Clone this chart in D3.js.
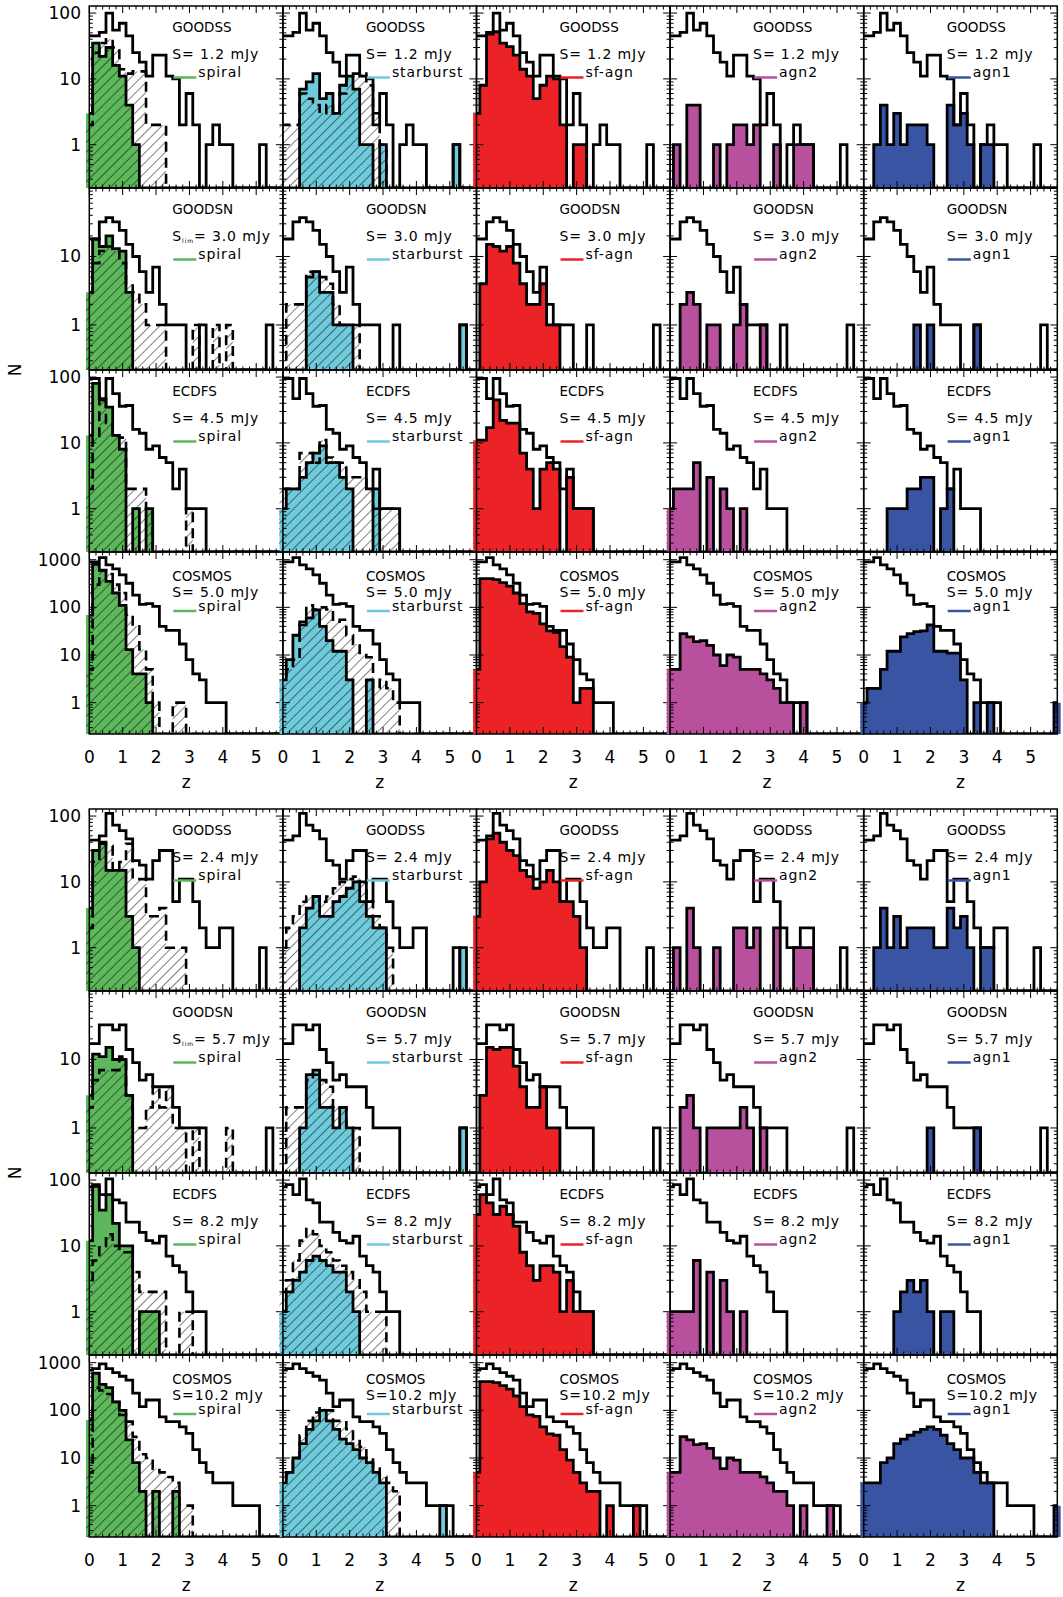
<!DOCTYPE html>
<html>
<head>
<meta charset="utf-8">
<script src="https://cdn.jsdelivr.net/npm/d3@7"></script>
<style>
  body { margin: 0; background: #fff; }
  text { font-family: "DejaVu Sans", sans-serif; fill: #000; }
</style>
</head>
<body>
<svg id="chart" width="1063" height="1597"></svg>
<script>
// Redshift histograms, 0.2-wide bins centred on z = 0, 0.2, ... 5.8
const binCentres = d3.range(30).map(k => +(k * 0.2).toFixed(1));

const fieldNames = ["GOODSS", "GOODSN", "ECDFS", "COSMOS", "GOODSS", "GOODSN", "ECDFS", "COSMOS"];
const fluxLimits = ["1.2", "3.0", "4.5", "5.0", "2.4", "5.7", "8.2", "10.2"];
const classNames = ["spiral", "starburst", "sf-agn", "agn2", "agn1"];
const classColors = ["#5db85b", "#6fcbdb", "#ec2326", "#b8509e", "#3a54a4"];
const xTickLabels = ["0", "1", "2", "3", "4", "5"];

// GOODSS, S = 1.2 mJy
const r1Total   = [45,45,51,100,55,70,45,25,18,11,23,23,11,10,2,6,2,0,1,2,1,1,0,0,0,0,1,0,0,0];
const r1Spiral  = [3,35,22,30,16,11,4,1,0,0,0,0,0,0,0,0,0,0,0,0,0,0,0,0,0,0,0,0,0,0];
const r1SpiralH = [2,25,35,40,30,14,12,13,13,2,2,2,0,0,0,0,0,0,0,0,0,0,0,0,0,0,0,0,0,0];
const r1Starb   = [0,0,0,7,9,12,5,6,3,8,11,7,1,1,0,1,0,0,0,0,0,0,0,0,0,0,1,0,0,0];
const r1StarbH  = [2,2,2,6,5,4,3,4,3,6,10,12,12,8,3,1,0,0,0,0,0,0,0,0,0,0,0,0,0,0];
const r1SfAgn   = [3,8,48,52,35,31,23,14,11,5,8,11,10,2,0,1,1,0,0,0,0,0,0,0,0,0,0,0,0,0];
const r1Agn2    = [0,1,0,4,4,0,0,1,0,1,2,2,1,2,0,0,1,0,0,1,1,1,0,0,0,0,0,0,0,0];
const r1Agn1    = [0,0,1,4,1,3,1,2,2,2,1,0,0,4,2,3,1,0,1,1,0,0,0,0,0,0,0,0,0,0];

// GOODSN, S = 3.0 mJy
const r2Total   = [18,18,32,37,32,24,15,10,6,3,7,2,1,1,1,0,0,1,0,0,0,0,0,0,0,0,0,1,0,0];
const r2Spiral  = [3,18,14,20,13,12,3,0,0,0,0,0,0,0,0,0,0,0,0,0,0,0,0,0,0,0,0,0,0,0];
const r2SpiralH = [3,8,12,14,12,8,4,3,2,1,1,1,0,0,0,0,1,0,0,1,0,1,0,0,0,0,0,0,0,0];
const r2Starb   = [0,0,0,0,5,6,3,3,1,1,1,0,0,0,0,0,0,0,0,0,0,0,0,0,0,0,0,1,0,0];
const r2StarbH  = [0,2,2,2,6,6,5,4,2,1,1,1,0,0,0,0,0,0,0,0,0,0,0,0,0,0,0,0,0,0];
const r2SfAgn   = [0,4,15,14,12,14,8,4,2,2,4,1,1,0,0,0,0,0,0,0,0,0,0,0,0,0,0,0,0,0];
const r2Agn2    = [0,0,2,3,2,0,1,1,0,0,1,2,0,0,1,0,0,0,0,0,0,0,0,0,0,0,0,0,0,0];
const r2Agn1    = [0,0,0,0,0,0,0,0,1,0,1,0,0,0,0,0,0,1,0,0,0,0,0,0,0,0,0,0,0,0];

// ECDFS, S = 4.5 mJy
const r3Total   = [95,95,47,95,56,36,37,16,14,8,9,6,5,2,4,1,1,1,0,0,0,0,0,0,0,0,0,0,0,0];
const r3Spiral  = [13,80,45,35,13,8,0,1,0,1,0,0,0,0,0,0,0,0,0,0,0,0,0,0,0,0,0,0,0,0];
const r3SpiralH = [2,12,50,20,13,12,2,2,2,1,0,0,0,0,0,1,0,0,0,0,0,0,0,0,0,0,0,0,0,0];
const r3Starb   = [1,2,2,3,5,7,9,5,5,3,2,0,0,0,2,0,0,0,0,0,0,0,0,0,0,0,0,0,0,0];
const r3StarbH  = [2,2,2,7,7,5,11,6,5,5,3,3,3,2,1,1,1,1,0,0,0,0,0,0,0,0,0,0,0,0];
const r3SfAgn   = [11,11,17,45,22,20,20,7,4,1,4,5,4,0,3,1,1,1,0,0,0,0,0,0,0,0,0,0,0,0];
const r3Agn2    = [1,2,2,2,5,0,3,0,2,1,0,1,0,0,0,0,0,0,0,0,0,0,0,0,0,0,0,0,0,0];
const r3Agn1    = [0,0,0,0,1,1,1,2,2,3,3,0,1,2,0,0,0,0,0,0,0,0,0,0,0,0,0,0,0,0];

// COSMOS, S = 5.0 mJy
const r4Total   = [900,900,1100,780,640,480,320,180,115,120,105,40,33,33,17,8,4,3,1,1,1,0,0,0,0,0,0,0,0,0];
const r4Spiral  = [69,800,600,350,200,110,13,4,4,1,0,0,0,0,0,0,0,0,0,0,0,0,0,0,0,0,0,0,0,0];
const r4SpiralH = [5,300,600,500,300,200,70,40,13,5,1,0,0,1,1,0,0,0,0,0,0,0,0,0,0,0,0,0,0,0];
const r4Starb   = [3,8,26,43,60,88,40,20,12,12,3,0,0,3,0,0,0,0,0,0,0,0,0,0,0,0,0,0,0,0];
const r4StarbH  = [3,5,8,50,110,90,100,90,50,55,26,17,10,9,2,3,2,1,0,0,0,0,0,0,0,0,0,0,0,0];
const r4SfAgn   = [5,400,400,380,330,280,200,120,80,75,45,32,30,15,9,1,2,2,0,0,0,0,0,0,0,0,0,0,0,0];
const r4Agn2    = [5,5,28,24,19,20,16,10,6,10,9,5,5,5,4,3,2,1,1,0,1,0,0,0,0,0,0,0,0,0];
const r4Agn1    = [1,2,2,5,12,12,24,28,31,32,43,12,12,11,11,3,0,1,0,1,0,0,0,0,0,0,0,0,0,1];

// GOODSS, S = 2.4 mJy
const r5Total   = [43,43,50,110,73,60,45,21,18,11,21,30,30,5,11,11,5,2,1,1,2,2,0,0,0,0,1,0,0,0];
const r5Spiral  = [4,30,40,15,15,15,3,1,0,0,0,0,0,0,0,0,0,0,0,0,0,0,0,0,0,0,0,0,0,0];
const r5SpiralH = [2,20,38,35,15,20,38,11,11,3,3,4,1,1,1,0,0,0,0,0,0,0,0,0,0,0,0,0,0,0];
const r5Starb   = [0,0,0,2,4,6,3,3,5,6,8,10,5,3,2,2,0,0,0,0,0,0,0,0,0,0,0,1,0,0];
const r5StarbH  = [1,2,3,5,6,6,5,6,8,10,11,12,10,5,3,2,1,0,0,0,0,0,0,0,0,0,0,0,0,0];
const r5SfAgn   = [3,10,45,55,40,30,25,15,12,8,10,15,10,5,5,3,1,0,0,0,0,0,0,0,0,0,0,0,0,0];
const r5Agn2    = [0,1,0,4,1,0,0,1,0,0,2,2,1,2,0,0,2,0,0,1,1,1,0,0,0,0,0,0,0,0];
const r5Agn1    = [0,0,1,4,1,3,1,2,2,2,2,1,1,4,2,3,1,0,1,1,0,0,0,0,0,0,0,0,0,0];

// GOODSN, S = 5.7 mJy
const r6Total   = [17,17,32,32,27,32,14,9,5,6,4,4,4,2,1,1,1,1,0,0,0,0,0,0,0,0,0,1,0,0];
const r6Spiral  = [3,12,11,15,10,10,3,0,0,0,0,0,0,0,0,0,0,0,0,0,0,0,0,0,0,0,0,0,0,0];
const r6SpiralH = [2,5,7,7,7,11,3,1,1,2,4,2,4,1,1,0,1,0,0,0,0,1,0,0,0,0,0,0,0,0];
const r6Starb   = [0,0,0,1,6,7,2,2,1,2,1,0,0,0,0,0,0,0,0,0,0,0,0,0,0,0,0,1,0,0];
const r6StarbH  = [0,2,2,2,5,6,5,4,2,2,1,1,0,0,0,0,0,0,0,0,0,0,0,0,0,0,0,0,0,0];
const r6SfAgn   = [0,3,15,14,15,15,8,4,2,2,4,1,1,0,0,0,0,0,0,0,0,0,0,0,0,0,0,0,0,0];
const r6Agn2    = [0,0,2,3,1,0,1,1,1,1,1,2,1,0,1,0,0,0,0,0,0,0,0,0,0,0,0,0,0,0];
const r6Agn1    = [0,0,0,0,0,0,0,0,0,0,1,0,0,0,0,0,0,1,0,0,0,0,0,0,0,0,0,0,0,0];

// ECDFS, S = 8.2 mJy
const r7Total   = [79,85,60,104,50,45,23,23,16,12,11,14,7,5,4,2,1,1,0,0,0,0,0,0,0,0,0,0,0,0];
const r7Spiral  = [12,80,35,60,22,10,10,0,1,1,1,0,0,0,0,0,0,0,0,0,0,0,0,0,0,0,0,0,0,0];
const r7SpiralH = [3,6,10,15,10,8,8,4,2,2,2,2,0,0,1,1,0,0,0,0,0,0,0,0,0,0,0,0,0,0];
const r7Starb   = [1,2,3,4,6,7,6,5,4,4,2,1,0,0,0,0,0,0,0,0,0,0,0,0,0,0,0,0,0,0];
const r7StarbH  = [2,3,6,12,18,15,10,8,6,5,4,3,2,1,1,1,0,0,0,0,0,0,0,0,0,0,0,0,0,0];
const r7SfAgn   = [30,60,45,30,40,30,20,8,5,3,5,5,4,1,3,1,1,1,0,0,0,0,0,0,0,0,0,0,0,0];
const r7Agn2    = [1,1,1,1,6,0,4,0,3,1,0,1,0,0,0,0,0,0,0,0,0,0,0,0,0,0,0,0,0,0];
const r7Agn1    = [0,0,0,0,0,1,2,3,2,3,1,0,1,1,0,0,0,0,0,0,0,0,0,0,0,0,0,0,0,0];

// COSMOS, S = 10.2 mJy
const r8Total   = [700,750,940,750,620,520,430,230,120,165,165,73,58,58,45,33,15,8,5,3,3,3,1,1,1,1,0,0,0,0];
const r8Spiral  = [63,600,350,300,150,100,24,8,2,0,2,0,0,2,0,0,0,0,0,0,0,0,0,0,0,0,0,0,0,0];
const r8SpiralH = [5,300,260,220,150,80,58,28,12,10,6,5,4,3,1,1,0,0,0,0,0,0,0,0,0,0,0,0,0,0];
const r8Starb   = [3,5,10,20,40,60,100,60,40,25,20,15,10,8,5,3,0,0,0,0,0,0,0,0,1,0,0,0,0,0];
const r8StarbH  = [3,5,10,30,60,90,110,100,60,60,40,25,17,10,6,4,3,2,0,0,0,0,0,0,0,0,0,0,0,0];
const r8SfAgn   = [5,400,400,380,330,280,200,120,80,75,45,32,30,15,9,5,3,2,2,0,1,0,0,0,1,0,0,0,0,0];
const r8Agn2    = [5,5,28,24,19,20,16,10,6,10,9,5,5,5,4,3,2,2,1,0,1,0,0,0,1,0,0,0,0,0];
const r8Agn1    = [3,3,3,8,10,20,25,30,35,40,45,40,30,20,15,10,10,5,3,3,0,0,0,0,0,0,0,0,0,1];

// table assembled from the arrays above
const rowTotals  = [r1Total, r2Total, r3Total, r4Total, r5Total, r6Total, r7Total, r8Total];
const rowClasses = [
  [r1Spiral, r1Starb, r1SfAgn, r1Agn2, r1Agn1],
  [r2Spiral, r2Starb, r2SfAgn, r2Agn2, r2Agn1],
  [r3Spiral, r3Starb, r3SfAgn, r3Agn2, r3Agn1],
  [r4Spiral, r4Starb, r4SfAgn, r4Agn2, r4Agn1],
  [r5Spiral, r5Starb, r5SfAgn, r5Agn2, r5Agn1],
  [r6Spiral, r6Starb, r6SfAgn, r6Agn2, r6Agn1],
  [r7Spiral, r7Starb, r7SfAgn, r7Agn2, r7Agn1],
  [r8Spiral, r8Starb, r8SfAgn, r8Agn2, r8Agn1]
];
const rowHatched = [
  [r1SpiralH, r1StarbH], [r2SpiralH, r2StarbH], [r3SpiralH, r3StarbH], [r4SpiralH, r4StarbH],
  [r5SpiralH, r5StarbH], [r6SpiralH, r6StarbH], [r7SpiralH, r7StarbH], [r8SpiralH, r8StarbH]
];

// ---- layout ----
const PW = 193.6, PH = 182, X0 = 89.3;
const blockTops = [6, 809];
const binW = 0.2;
const zMax = 5.8;

const svg = d3.select("#chart");
const defs = svg.append("defs");
defs.append("pattern")
  .attr("id", "hatch")
  .attr("patternUnits", "userSpaceOnUse")
  .attr("width", 7).attr("height", 7)
  .attr("patternTransform", "rotate(45)")
  .append("line")
  .attr("x1", 0).attr("y1", 0).attr("x2", 0).attr("y2", 7)
  .attr("stroke", "#000").attr("stroke-width", 1);

const stepPoints = vals => vals.flatMap((v, k) => [[binCentres[k] - binW / 2, v], [binCentres[k] + binW / 2, v]]);
const closedPoints = vals => [[binCentres[0] - binW / 2, 0], ...stepPoints(vals), [binCentres[vals.length - 1] + binW / 2, 0]];

function panelTop(r) { return blockTops[Math.floor(r / 4)] + (r % 4) * PH; }

for (let r = 0; r < 8; r++) {
  const kind = r % 4;               // 0 GOODSS, 1 GOODSN, 2 ECDFS, 3 COSMOS
  const top = panelTop(r), bot = top + PH;
  const yMax = kind === 3 ? 1450 : (kind === 1 ? 100 : 128);
  const y = d3.scaleLog().domain([0.22, yMax]).range([bot, top]).clamp(true);
  const yv = v => v > 0 ? y(v) : bot;

  for (let c = 0; c < 5; c++) {
    const L = X0 + c * PW;
    const x = d3.scaleLinear().domain([0, zMax]).range([L, L + PW]);
    const area = d3.area().x(p => x(p[0])).y0(bot).y1(p => yv(p[1]));
    const line = d3.line().x(p => x(p[0])).y(p => yv(p[1]));
    const clipId = `clip-${r}-${c}`;
    defs.append("clipPath").attr("id", clipId)
      .append("rect").attr("x", L).attr("y", top).attr("width", PW).attr("height", PH);

    const g = svg.append("g");
    const cls = rowClasses[r][c];

    // coloured class histogram
    g.append("path").attr("d", area(stepPoints(cls))).attr("fill", classColors[c]);

    // hatched comparison histogram (spiral and starburst only)
    if (c < 2) {
      const h = rowHatched[r][c];
      g.append("path").attr("d", area(stepPoints(h))).attr("fill", "url(#hatch)");
      g.append("path").attr("d", line(closedPoints(h)))
        .attr("fill", "none").attr("stroke", "#000").attr("stroke-width", 2.6)
        .attr("stroke-dasharray", "10,6").attr("clip-path", `url(#${clipId})`);
    }

    // class outline
    g.append("path").attr("d", line(closedPoints(cls)))
      .attr("fill", "none").attr("stroke", "#000").attr("stroke-width", 2.8)
      .attr("stroke-linejoin", "miter").attr("clip-path", `url(#${clipId})`);

    // whole-field histogram
    g.append("path").attr("d", line(closedPoints(rowTotals[r])))
      .attr("fill", "none").attr("stroke", "#000").attr("stroke-width", 2.8)
      .attr("stroke-linejoin", "miter").attr("clip-path", `url(#${clipId})`);

    // frame
    g.append("rect").attr("x", L).attr("y", top).attr("width", PW).attr("height", PH)
      .attr("fill", "none").attr("stroke", "#000").attr("stroke-width", 1.5);

    // x ticks (major 1, minor 0.2)
    const tk = g.append("g").attr("stroke", "#000").attr("stroke-width", 1);
    d3.range(0, 30).forEach(i => {
      const z = i * 0.2;
      const major = i % 5 === 0;
      const len = major ? 7 : 3.5;
      tk.append("line").attr("x1", x(z)).attr("x2", x(z)).attr("y1", bot).attr("y2", bot - len);
      tk.append("line").attr("x1", x(z)).attr("x2", x(z)).attr("y1", top).attr("y2", top + len);
    });
    // y ticks (log)
    y.ticks().forEach(v => {
      const lg = Math.log10(v);
      const major = Math.abs(lg - Math.round(lg)) < 1e-9;
      const len = major ? 7 : 3.5;
      const yy = y(v);
      if (yy < top - 0.1 || yy > bot + 0.1) return;
      tk.append("line").attr("x1", L).attr("x2", L + len).attr("y1", yy).attr("y2", yy);
      tk.append("line").attr("x1", L + PW).attr("x2", L + PW - len).attr("y1", yy).attr("y2", yy);
    });

    // labels
    const isC = kind === 3;
    const tY = top + (isC ? 28.5 : 26);
    const sY = top + (isC ? 44.5 : 53);
    const lY = top + (isC ? 58.5 : 71);
    g.append("text").attr("x", L + 83).attr("y", tY).attr("font-size", 13.5).text(fieldNames[r]);

    const sText = g.append("text").attr("x", L + 83).attr("y", sY).attr("font-size", 14)
      .attr("letter-spacing", 0.9).style("white-space", "pre");
    const fluxStr = fluxLimits[r].length < 4 ? " " + fluxLimits[r] : fluxLimits[r];
    if (kind === 1 && c === 0) {
      sText.append("tspan").text("S");
      sText.append("tspan").attr("font-size", 6).attr("dy", 1.5).text("lim");
      sText.append("tspan").attr("dy", -1.5).text("=" + fluxStr + " mJy");
    } else {
      sText.text("S=" + fluxStr + " mJy");
    }
    g.append("line").attr("x1", L + 84).attr("x2", L + 107).attr("y1", lY + 0.5).attr("y2", lY + 0.5)
      .attr("stroke", classColors[c]).attr("stroke-width", 2.5);
    g.append("text").attr("x", L + 109).attr("y", lY).attr("font-size", 14)
      .attr("letter-spacing", 0.9).text(classNames[c]);
  }

  // y tick labels
  const yLabels = kind === 3 ? [1000, 100, 10, 1] : (kind === 1 ? [10, 1] : [100, 10, 1]);
  yLabels.forEach(v => {
    svg.append("text").attr("x", 81).attr("y", y(v) + 6).attr("text-anchor", "end")
      .attr("font-size", 17).text(String(v));
  });
}

// x tick labels and axis titles
blockTops.forEach((bt, b) => {
  const bottom = bt + 4 * PH;
  for (let c = 0; c < 5; c++) {
    const L = X0 + c * PW;
    const x = d3.scaleLinear().domain([0, zMax]).range([L, L + PW]);
    xTickLabels.forEach((lab, i) => {
      svg.append("text").attr("x", x(i)).attr("y", bottom + 29).attr("text-anchor", "middle")
        .attr("font-size", 17).text(lab);
    });
    svg.append("text").attr("x", L + PW / 2).attr("y", bottom + 54).attr("text-anchor", "middle")
      .attr("font-size", 17).text("z");
  }
  const midY = bt + 2 * PH;
  svg.append("text").attr("transform", `translate(21,${midY}) rotate(-90)`)
    .attr("text-anchor", "middle").attr("font-size", 17).text("N");
});
</script>
</body>
</html>
